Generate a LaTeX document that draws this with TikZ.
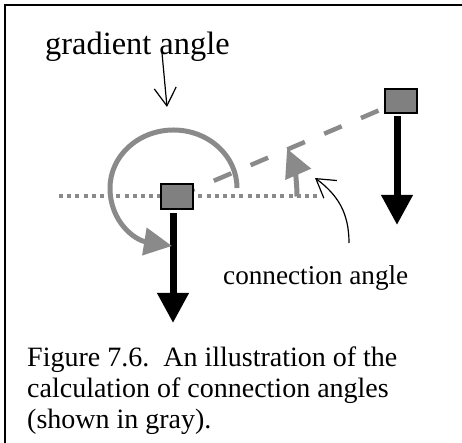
\documentclass[tikz,border=0pt]{standalone}
\usepackage{fontspec}
\setmainfont{Liberation Serif}
\usetikzlibrary{arrows.meta}
\definecolor{boxgray}{RGB}{128,128,128}
\definecolor{linegray}{RGB}{138,138,138}
\begin{document}
\begin{tikzpicture}[x=1pt,y=1pt,
  cell/.style={draw=black,line width=1.5pt,fill=boxgray,minimum width=32pt,minimum height=25pt,inner sep=0pt},
  downarrow/.style={line width=7pt,-{Triangle[length=30pt,width=30pt]}},
  grayarrow/.style={draw=linegray,line width=5pt,-{Triangle[length=28pt,width=27pt]}},
  pointer/.style={line width=1.2pt,-{Straight Barb[length=18pt,width=22pt]}},
  hline/.style={draw=linegray,line width=4pt,dash pattern=on 4pt off 4.2pt},
  linkline/.style={draw=linegray,line width=4.5pt,dash pattern=on 19pt off 21pt},
  lbl/.style={anchor=base west,inner sep=0pt}]
\useasboundingbox (0,0) rectangle (462,443);
% frame
\draw[line width=1.5pt] (5,0) -- (5,438) -- (462,438);
% the two cells
\coordinate (src) at (177,246.5);
\coordinate (dst) at (401,342);
\draw[hline] ([xshift=-118pt]src) -- ([xshift=141pt]src);
\draw[linkline] (src) -- (dst);
\node[cell] (srcbox) at (src) {};
\node[cell,minimum height=24pt] (dstbox) at (dst) {};
% gradients
\coordinate (srctip) at (173,120);
\coordinate (dsttip) at (397,218);
\draw[downarrow] ([xshift=-4pt,yshift=-3.5pt]srcbox.south) -- (srctip);
\draw[downarrow] ([xshift=-4pt,yshift=-2pt]dstbox.south) -- (dsttip);
% angles
\draw[grayarrow] (237,255) arc[start angle=0,end angle=180,x radius=63.5,y radius=58]
  .. controls (110,221) and (135,203) .. (172,197);
\draw[grayarrow] ([xshift=120pt]src) arc[start angle=0,end angle=23.5,radius=120];
% labels
\node[lbl,font=\fontsize{32.4}{32.4}\selectfont] (gradlbl) at (45,388) {gradient angle};
\coordinate (gradfrom) at (162,390);
\coordinate (gradtip) at (167,336);
\draw[pointer] (gradfrom) -- (gradtip);
\node[lbl,font=\fontsize{27.2}{27.2}\selectfont] (connlbl) at (223,158) {connection angle};
\coordinate (connfrom) at (349,200);
\coordinate (conntip) at (315,265);
\draw[pointer] (connfrom) .. controls (349,230) and (338,248) .. (conntip);
\node[lbl,align=left,font=\fontsize{28}{31}\selectfont] (caption) at (27,14.5)
  {Figure 7.6.\ \ An illustration of the\\calculation of connection angles\\(shown in gray).};
\end{tikzpicture}
\end{document}
